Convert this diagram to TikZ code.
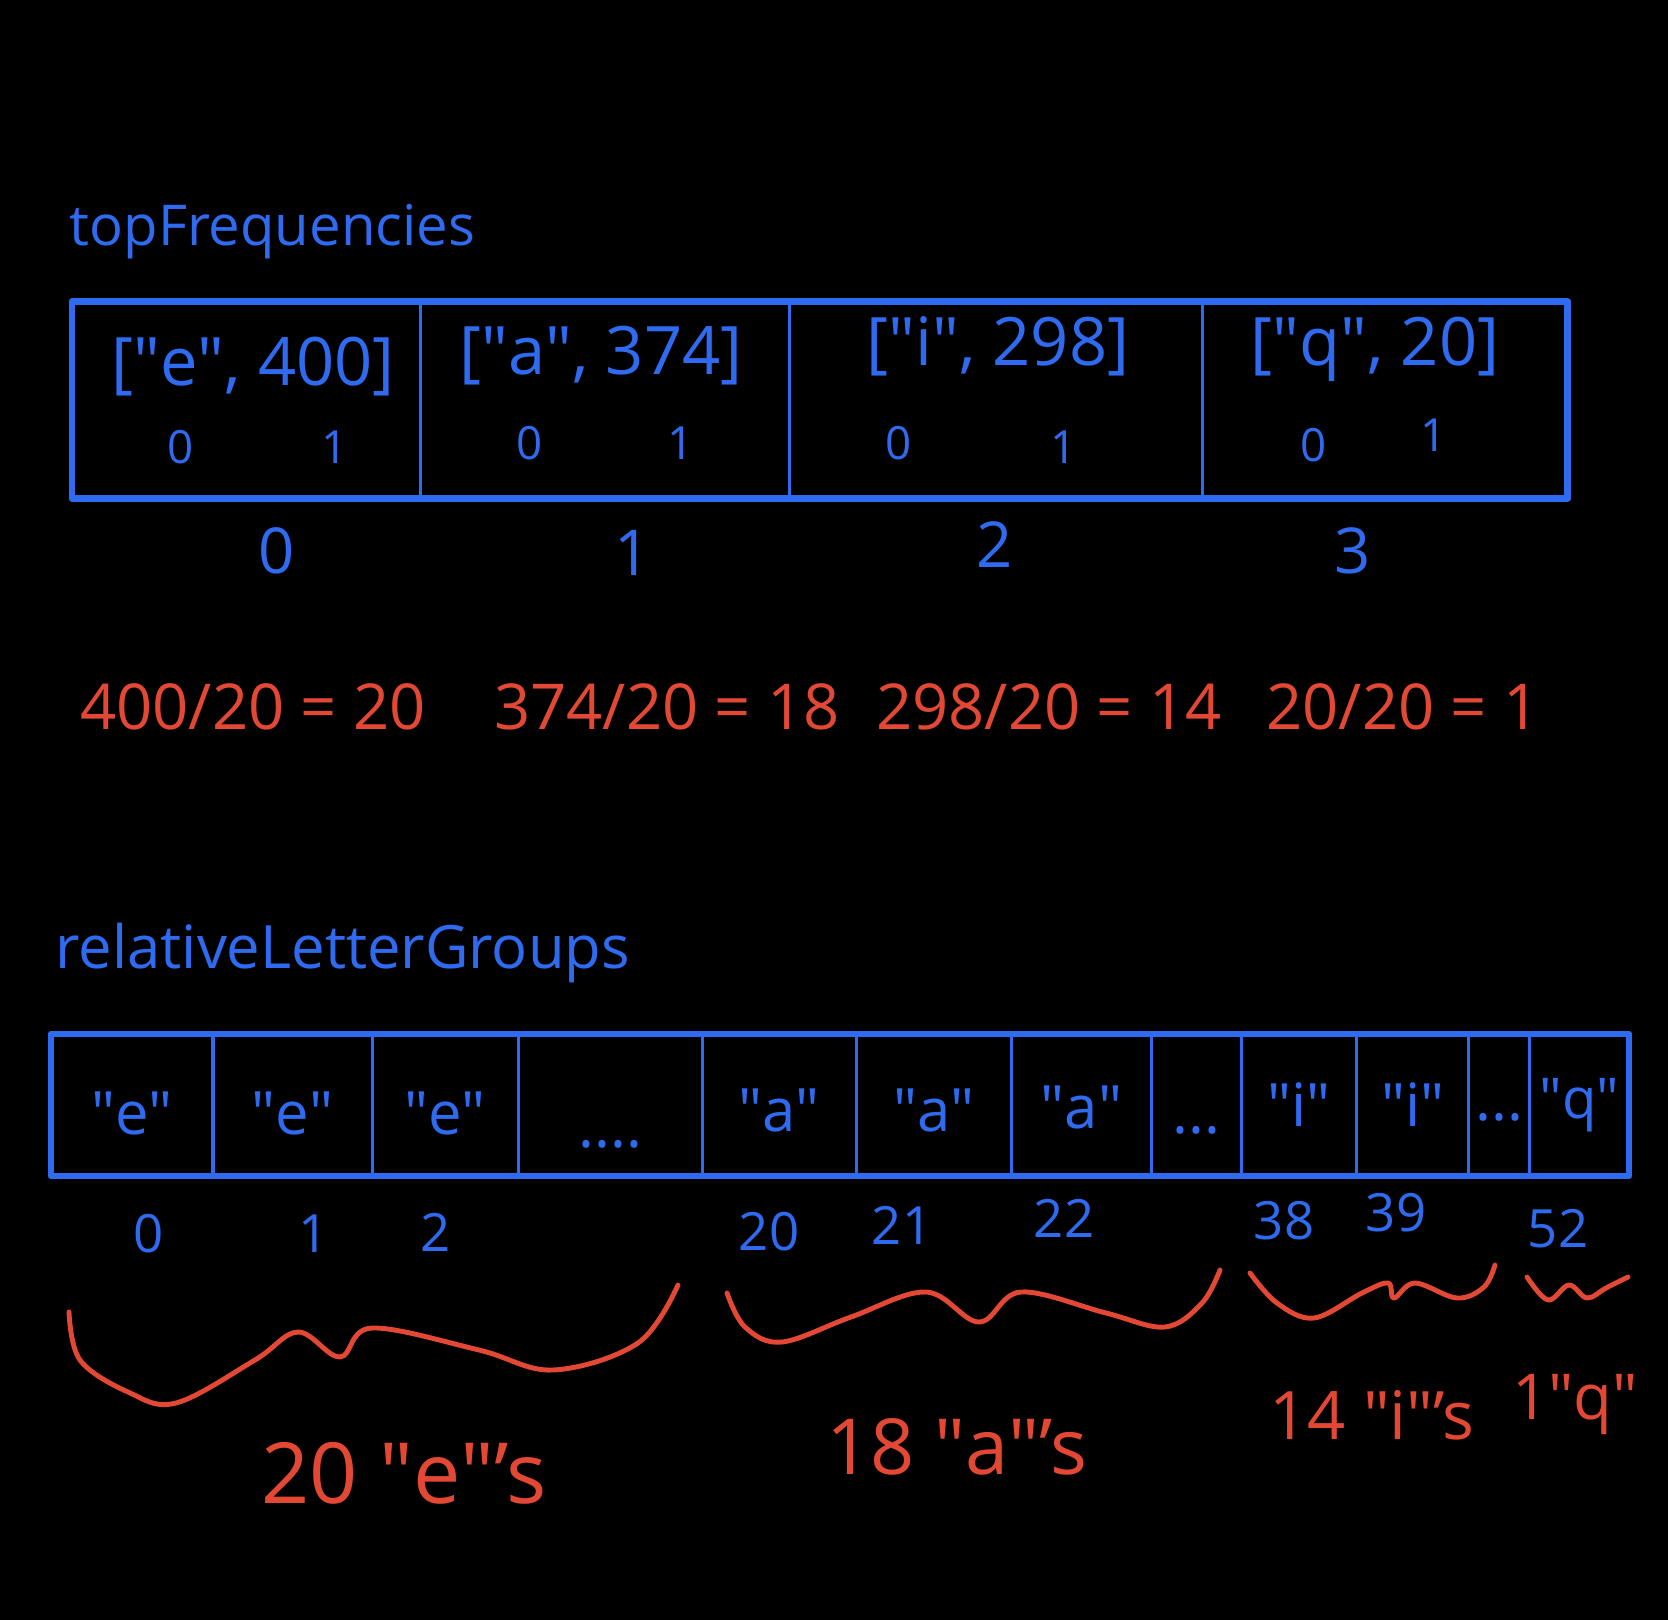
\documentclass[tikz,border=0pt]{standalone}
\usepackage{fontspec}
\setmainfont{Open Sans}
\usetikzlibrary{positioning}
\definecolor{penblue}{RGB}{47,107,240}
\definecolor{penred}{RGB}{226,72,52}
\newcommand{\qt}[1]{\textquotedbl#1\textquotedbl}
\tikzset{
  tcell/.style={draw=penblue, line width=0.9pt, minimum height=1.97cm, inner sep=0pt, outer sep=0pt},
  bcell/.style={draw=penblue, line width=0.9pt, minimum height=1.42cm, inner sep=0pt, outer sep=0pt},
  frame/.style={draw=penblue, line width=1.9pt, line join=round},
  arrname/.style={text=penblue, inner sep=0pt, font=\fontsize{16}{19}\selectfont},
  pair/.style={text=penblue, inner sep=0pt, font=\fontsize{19}{22}\selectfont},
  sub/.style={text=penblue, inner sep=0pt, font=\fontsize{13}{15}\selectfont},
  idx/.style={text=penblue, inner sep=0pt, font=\fontsize{18}{21}\selectfont},
  letter/.style={text=penblue, inner sep=0pt, font=\fontsize{17}{20}\selectfont},
  bidx/.style={text=penblue, inner sep=0pt, font=\fontsize{15}{18}\selectfont},
  ratio/.style={text=penred, inner sep=0pt, font=\fontsize{18}{22}\selectfont},
  tally/.style={text=penred, inner sep=0pt, font=\fontsize{22}{26}\selectfont},
  curly/.style={draw=penred, line width=1.4pt, line cap=round, line join=round}
}
\begin{document}
\begin{tikzpicture}[x=0.01cm, y=-0.01cm]
  \fill[black] (0,0) rectangle (1668,1620);

  \node[arrname, anchor=base west] (topname) at (69,245) {topFrequencies};
  \node[tcell, minimum width=3.48cm] (f0) at (246,400) {};
  \node[tcell, minimum width=3.69cm, right=0pt of f0] (f1) {};
  \node[tcell, minimum width=4.13cm, right=0pt of f1] (f2) {};
  \node[tcell, minimum width=3.65cm, right=0pt of f2] (f3) {};
  \draw[frame] (f0.north west) rectangle (f3.south east);

  \node[pair] (p0) at (253,367) {[\qt{e}, 400]};
  \node[pair] (p1) at (601,356) {[\qt{a}, 374]};
  \node[pair] (p2) at (998,346) {[\qt{i}, 298]};
  \node[pair] (p3) at (1375,349) {[\qt{q}, 20]};
  \node[sub] (p0a) at (181,447) {0};
  \node[sub] (p0b) at (335,447) {1};
  \node[sub] (p1a) at (530,443) {0};
  \node[sub] (p1b) at (681,443) {1};
  \node[sub] (p2a) at (899,443) {0};
  \node[sub] (p2b) at (1064,447) {1};
  \node[sub] (p3a) at (1314,445) {0};
  \node[sub] (p3b) at (1434,435) {1};

  \node[idx] (i0) at (277,551) {0};
  \node[idx] (i1) at (633,553) {1};
  \node[idx] (i2) at (995,545) {2};
  \node[idx] (i3) at (1353,551) {3};

  \node[ratio] (q0) at (253,707) {400/20 = 20};
  \node[ratio] (q1) at (667,707) {374/20 = 18};
  \node[ratio] (q2) at (1049,707) {298/20 = 14};
  \node[ratio] (q3) at (1403,707) {20/20 = 1};

  \node[arrname, font=\fontsize{17}{20}\selectfont, anchor=base west] (botname) at (55,968) {relativeLetterGroups};
  \node[bcell, minimum width=1.62cm] (g0) at (132,1105) {};
  \node[bcell, minimum width=1.59cm, right=0pt of g0] (g1) {};
  \node[bcell, minimum width=1.46cm, right=0pt of g1] (g2) {};
  \node[bcell, minimum width=1.84cm, right=0pt of g2] (g3) {};
  \node[bcell, minimum width=1.54cm, right=0pt of g3] (g4) {};
  \node[bcell, minimum width=1.55cm, right=0pt of g4] (g5) {};
  \node[bcell, minimum width=1.40cm, right=0pt of g5] (g6) {};
  \node[bcell, minimum width=0.90cm, right=0pt of g6] (g7) {};
  \node[bcell, minimum width=1.15cm, right=0pt of g7] (g8) {};
  \node[bcell, minimum width=1.12cm, right=0pt of g8] (g9) {};
  \node[bcell, minimum width=0.61cm, right=0pt of g9] (g10) {};
  \node[bcell, minimum width=0.99cm, right=0pt of g10] (g11) {};
  \draw[frame] (g0.north west) rectangle (g11.south east);

  \node[letter] (l0) at ([yshift=-0.08cm]g0.center) {\qt{e}};
  \node[letter] (l1) at ([yshift=-0.08cm]g1.center) {\qt{e}};
  \node[letter] (l2) at ([yshift=-0.08cm]g2.center) {\qt{e}};
  \node[letter] (d3) at ([yshift=-0.39cm]g3.center) {....};
  \node[letter] (l4) at ([yshift=-0.05cm]g4.center) {\qt{a}};
  \node[letter] (l5) at ([yshift=-0.05cm]g5.center) {\qt{a}};
  \node[letter] (l6) at ([yshift=-0.02cm]g6.center) {\qt{a}};
  \node[letter] (d7) at ([yshift=-0.25cm]g7.center) {...};
  \node[letter] (l8) at (g8) {\qt{i}};
  \node[letter] (l9) at (g9) {\qt{i}};
  \node[letter] (d10) at ([yshift=-0.12cm]g10.center) {...};
  \node[letter, font=\fontsize{16}{19}\selectfont] (l11) at (g11) {\qt{q}};

  \node[bidx] (j0) at (149,1234) {0};
  \node[bidx] (j1) at (314,1234) {1};
  \node[bidx] (j2) at (436,1232) {2};
  \node[bidx] (j20) at (769,1232) {20};
  \node[bidx] (j21) at (902,1225) {21};
  \node[bidx] (j22) at (1064,1218) {22};
  \node[bidx] (j38) at (1284,1221) {38};
  \node[bidx] (j39) at (1396,1213) {39};
  \node[bidx] (j52) at (1558,1229) {52};

  \draw[curly] plot[smooth, tension=0.6] coordinates {(69,1312) (80,1360) (128,1392) (176,1403) (255,1360) (298,1332) (340,1357) (372,1328) (479,1350) (553,1370) (638,1343) (678,1285)};
  \draw[curly] plot[smooth, tension=0.6] coordinates {(727,1293) (745,1327) (782,1342) (851,1317) (926,1292) (979,1322) (1021,1292) (1106,1313) (1165,1327) (1202,1303) (1220,1270)};
  \draw[curly] plot[smooth, tension=0.6] coordinates {(1250,1273) (1277,1303) (1314,1318) (1362,1293) (1388,1283) (1394,1298) (1415,1283) (1457,1298) (1484,1287) (1495,1265)};
  \draw[curly] plot[smooth, tension=0.6] coordinates {(1527,1277) (1548,1300) (1569,1285) (1587,1298) (1606,1288) (1628,1277)};

  \node[tally, font=\fontsize{24}{28}\selectfont] (c0) at (404,1473) {20 \qt{e}'s};
  \node[tally] (c1) at (957,1447) {18 \qt{a}'s};
  \node[tally, font=\fontsize{19}{23}\selectfont] (c2) at (1372,1415) {14 \qt{i}'s};
  \node[tally, font=\fontsize{18}{22}\selectfont] (c3) at (1575,1404) {1\qt{q}};
\end{tikzpicture}
\end{document}
